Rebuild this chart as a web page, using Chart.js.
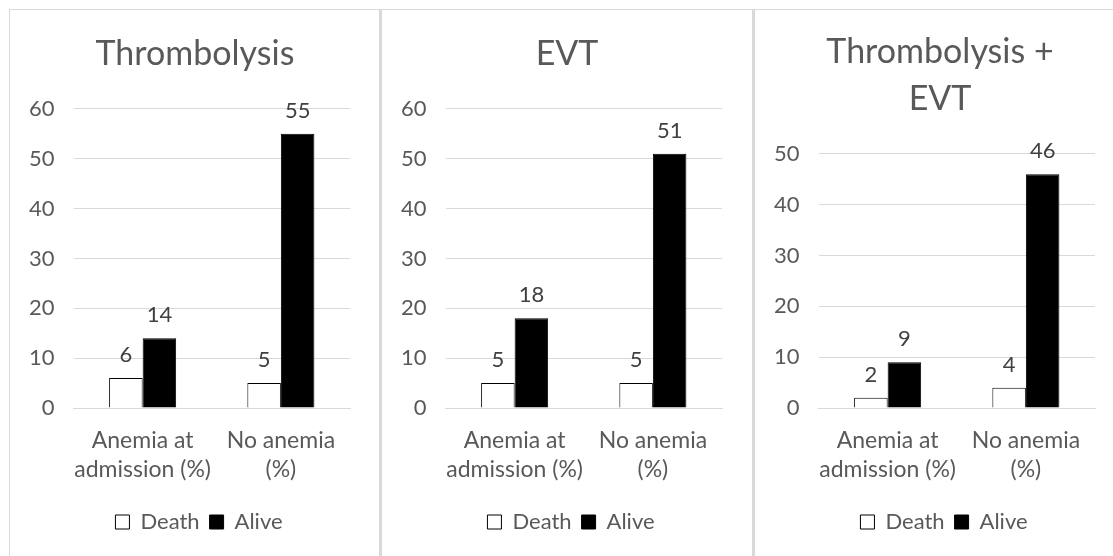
<!DOCTYPE html>
<html>
<head>
<meta charset="utf-8">
<script src="https://cdn.jsdelivr.net/npm/chart.js@4"></script>
<style>
  html, body { margin: 0; padding: 0; background: #fff; overflow: hidden; }
  body { width: 1113px; height: 556px; position: relative; }
  .frame { position: absolute; left: 9px; top: 9px; width: 1120px; height: 560px;
           border-top: 1px solid #d9d9d9; border-left: 1px solid #d9d9d9; }
  .divider { position: absolute; top: 9px; width: 3px; height: 560px; background: #d9d9d9; }
  .panel { position: absolute; top: 10px; width: 370px; height: 546px; }
</style>
</head>
<body>
<div class="frame"></div>
<div class="divider" style="left:379px"></div>
<div class="divider" style="left:752px"></div>
<div class="panel" style="left:10px"><canvas id="c1" width="370" height="546"></canvas></div>
<div class="panel" style="left:382px"><canvas id="c2" width="370" height="546"></canvas></div>
<div class="panel" style="left:755px"><canvas id="c3" width="370" height="546"></canvas></div>
<script>
// ── Data ──────────────────────────────────────────────────────────────────
const categories = [['Anemia at', 'admission (%)'], ['No anemia', '(%)']];
const seriesNames = ['Death', 'Alive'];

const deathThrombolysis = [6, 5];
const aliveThrombolysis = [14, 55];
const deathEVT = [5, 5];
const aliveEVT = [18, 51];
const deathCombined = [2, 4];
const aliveCombined = [9, 46];

const FONT = 'Lato, Calibri, "Open Sans", sans-serif';
const TEXT = '#595959';
const GRID = '#d9d9d9';

// value labels above each bar
const barLabels = {
    id: 'barLabels',
    afterDatasetsDraw(chart) {
        const ctx = chart.ctx;
        ctx.save();
        ctx.font = '22px ' + FONT;
        ctx.fillStyle = '#404040';
        ctx.textAlign = 'center';
        ctx.textBaseline = 'alphabetic';
        chart.data.datasets.forEach((ds, i) => {
            chart.getDatasetMeta(i).data.forEach((bar, j) => {
                ctx.fillText(ds.data[j], bar.x, bar.y - 16);
            });
        });
        ctx.restore();
    }
};

// title and legend sit a little right of the canvas centre in the original
const recentre = {
    id: 'recentre',
    afterLayout(chart) {
        chart.titleBlock.left += 15;
        chart.titleBlock.right += 15;
        chart.legend.left += 19;
        chart.legend.right += 19;
    }
};

function makePanel(id, title, death, alive, yMax, titleTop) {
    new Chart(document.getElementById(id), {
        type: 'bar',
        data: {
            labels: categories,
            datasets: [
                { label: seriesNames[0], data: death, backgroundColor: '#ffffff',
                  borderColor: '#000000', borderWidth: 1 },
                { label: seriesNames[1], data: alive, backgroundColor: '#000000',
                  borderColor: '#000000', borderWidth: 1 }
            ]
        },
        options: {
            responsive: false,
            devicePixelRatio: 1,
            animation: false,
            datasets: { bar: { categoryPercentage: 0.485, barPercentage: 1 } },
            layout: { padding: { left: 0, right: 30, top: 0, bottom: 13 } },
            plugins: {
                title: {
                    display: true,
                    text: title,
                    color: TEXT,
                    font: { family: FONT, size: 34, weight: 'normal', lineHeight: 1.38 },
                    padding: { top: titleTop, bottom: 31 }
                },
                legend: {
                    position: 'bottom',
                    labels: {
                        color: TEXT,
                        font: { family: FONT, size: 22 },
                        boxWidth: 14, boxHeight: 14, padding: 10
                    }
                },
                tooltip: { enabled: false }
            },
            scales: {
                x: {
                    grid: { display: false },
                    border: { display: true, color: GRID, width: 1 },
                    ticks: { color: TEXT, font: { family: FONT, size: 23, lineHeight: 1.22 },
                             padding: 11, maxRotation: 0, autoSkip: false },
                    afterFit: s => { s.height = 93; }
                },
                y: {
                    min: 0, max: yMax,
                    grid: { color: GRID, drawTicks: false },
                    border: { display: false },
                    ticks: { stepSize: 10, color: TEXT, font: { family: FONT, size: 22 }, padding: 19 }
                }
            }
        },
        plugins: [barLabels, recentre]
    });
}

makePanel('c1', 'Thrombolysis', deathThrombolysis, aliveThrombolysis, 60, 21);
makePanel('c2', 'EVT', deathEVT, aliveEVT, 60, 21);
makePanel('c3', ['Thrombolysis +', 'EVT'], deathCombined, aliveCombined, 50, 19);
</script>
</body>
</html>
